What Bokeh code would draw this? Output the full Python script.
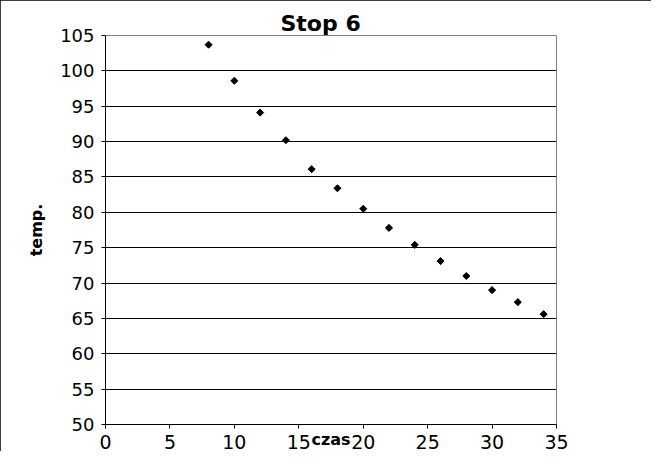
import math
from bokeh.plotting import figure
from bokeh.models import Range1d, FixedTicker
from bokeh.embed import file_html
from bokeh.resources import INLINE

title_text = "Stop 6"
x_label = "czas"
y_label = "temp."
czas = [8, 10, 12, 14, 16, 18, 20, 22, 24, 26, 28, 30, 32, 34]
temp = [103.7, 98.6, 94.1, 90.2, 86.1, 83.4, 80.5, 77.8, 75.4, 73.1, 71.0, 69.0, 67.3, 65.6]
x_ticks = [0, 5, 10, 15, 20, 25, 30, 35]
y_ticks = [50, 55, 60, 65, 70, 75, 80, 85, 90, 95, 100, 105]

FONT = "DejaVu Sans"

p = figure(width=651, height=451, output_backend="svg", toolbar_location=None,
           x_range=Range1d(0, 35), y_range=Range1d(50, 105),
           min_border_left=105, min_border_right=95, min_border_top=35, min_border_bottom=26)
p.styles = {"outline": "1px solid black", "outline-offset": "-1px"}

p.title.text = title_text
p.title.align = "left"
p.title.offset = 175
p.title.text_font = FONT
p.title.text_font_size = "22px"
p.title.text_font_style = "bold"
p.title.text_color = "black"
p.title.standoff = 0

p.background_fill_color = "white"
p.border_fill_color = "white"
p.outline_line_color = "#808080"
p.outline_line_width = 1

p.xgrid.grid_line_color = None
p.ygrid.grid_line_color = "black"
p.ygrid.grid_line_alpha = 1.0
p.ygrid.grid_line_width = 1

for ax in (p.xaxis[0], p.yaxis[0]):
    ax.axis_line_color = "black"
    ax.major_tick_line_color = "black"
    ax.major_tick_in = 0
    ax.major_tick_out = 4
    ax.minor_tick_line_color = None
    ax.major_label_text_font = FONT
    ax.major_label_text_color = "black"
    ax.axis_label_text_font = FONT
    ax.axis_label_text_font_size = "16px"
    ax.axis_label_text_font_style = "bold"
    ax.axis_label_text_color = "black"

p.xaxis.major_label_text_font_size = "19px"
p.yaxis.major_label_text_font_size = "18px"
p.xaxis.ticker = FixedTicker(ticks=x_ticks)
p.yaxis.ticker = FixedTicker(ticks=y_ticks)
p.xaxis.axis_label = x_label
p.yaxis.axis_label = y_label
p.xaxis.major_label_standoff = 6
p.yaxis.major_label_standoff = 7
p.xaxis.axis_label_standoff = -22
p.yaxis.axis_label_standoff = 11

p.scatter(czas, temp, marker="square", size=5, angle=math.pi / 4,
          fill_color="black", line_color="black")

open("out.html", "w").write(file_html(p, INLINE))
